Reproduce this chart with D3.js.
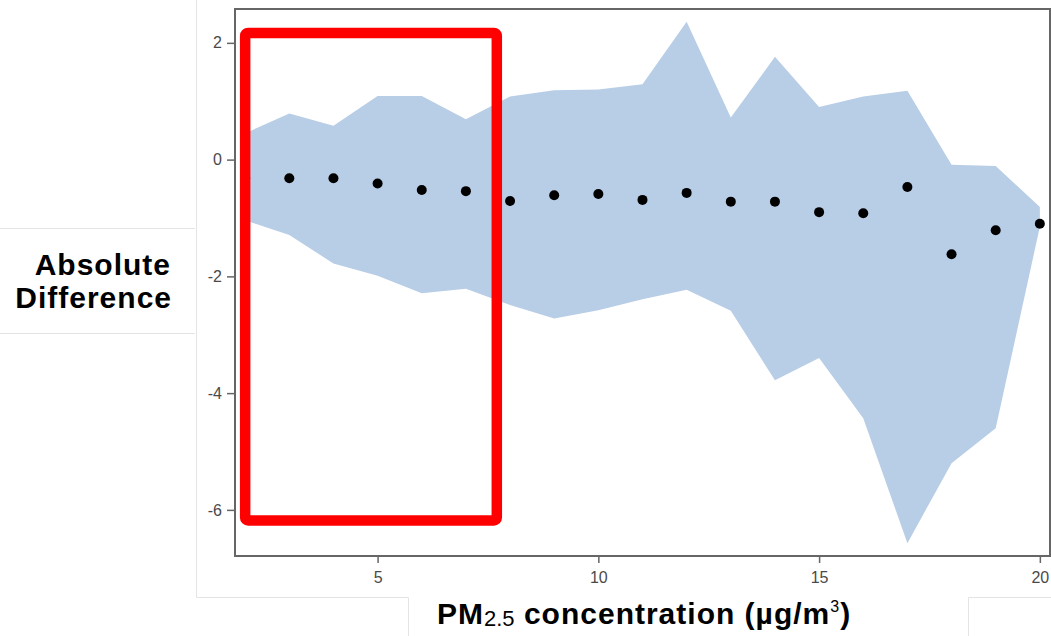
<!DOCTYPE html>
<html>
<head>
<meta charset="utf-8">
<script src="https://cdn.jsdelivr.net/npm/d3@7"></script>
<style>
  body { margin: 0; background: #fff; }
  svg { display: block; font-family: "Liberation Sans", Arial, sans-serif; }
  .tick text { fill: #4a4a4a; font-size: 16px; }
  .tick line { stroke: #666; stroke-width: 1.5; }
  .label { font-weight: bold; fill: #000; }
</style>
</head>
<body>
<div id="chart"></div>
<script>
  // values
  var conc  = [2, 3, 4, 5, 6, 7, 8, 9, 10, 11, 12, 13, 14, 15, 16, 17, 18, 19, 20];
  var meanDiff = [-0.32, -0.32, -0.32, -0.41, -0.52, -0.54, -0.71, -0.61, -0.59, -0.69,
                  -0.57, -0.72, -0.72, -0.90, -0.92, -0.47, -1.62, -1.21, -1.10];
  var upper = [0.45, 0.79, 0.58, 1.09, 1.09, 0.69, 1.08, 1.19, 1.20, 1.29,
               2.36, 0.72, 1.76, 0.90, 1.08, 1.18, -0.09, -0.11, -0.81];
  var lower = [-1.04, -1.29, -1.78, -1.99, -2.29, -2.21, -2.49, -2.72, -2.58, -2.39,
               -2.23, -2.59, -3.78, -3.40, -4.43, -6.57, -5.20, -4.60, -1.15];
  var xTicks = [5, 10, 15, 20];
  var yTicks = [2, 0, -2, -4, -6];
  // highlighted region (red box)
  var boxX = [2.0, 7.7];
  var boxY = [2.17, -6.18];

  var width = 1051, height = 636;
  var plotLeft = 235, plotTop = 9, plotRight = 1050, plotBottom = 556;

  var svg = d3.select("#chart")
    .append("svg")
      .attr("width", width)
      .attr("height", height);

  var x = d3.scaleLinear().domain([1.77, 20.23]).range([plotLeft, plotRight]);
  var y = d3.scaleLinear().domain([-6.79, 2.58]).range([plotBottom, plotTop]);

  // faint outlines of the pasted pieces
  var faint = svg.append("g").attr("stroke", "#e4e4e4").attr("stroke-width", 1).attr("fill", "none");
  faint.append("path").attr("d", "M196.5,0V597.5H408.5V636");
  faint.append("path").attr("d", "M968.5,636V597.5H1051");
  faint.append("path").attr("d", "M0,228.5H195M0,333.5H195");

  var data = conc.map(function(c, i) {
    return { x: c, m: meanDiff[i], hi: upper[i], lo: lower[i] };
  });

  var area = d3.area()
    .x(function(d) { return x(d.x); })
    .y0(function(d) { return y(d.lo); })
    .y1(function(d) { return y(d.hi); });

  svg.append("path")
    .datum(data)
    .attr("d", area)
    .attr("fill", "#b8cde6");

  svg.selectAll(".dot")
    .data(data)
  .enter().append("circle")
    .attr("class", "dot")
    .attr("cx", function(d) { return x(d.x); })
    .attr("cy", function(d) { return y(d.m); })
    .attr("r", 5)
    .attr("fill", "#000");

  // frame
  svg.append("rect")
    .attr("x", plotLeft).attr("y", plotTop)
    .attr("width", plotRight - plotLeft).attr("height", plotBottom - plotTop)
    .attr("fill", "none")
    .attr("stroke", "#666")
    .attr("stroke-width", 2);

  // plain hyphen for negatives, like the original
  var fmt = function(d) { return String(d); };

  svg.append("g")
    .attr("transform", "translate(" + plotLeft + ",0)")
    .call(d3.axisLeft(y).tickValues(yTicks).tickSize(8).tickPadding(5).tickFormat(fmt))
    .call(function(g) { g.select(".domain").remove(); });

  svg.append("g")
    .attr("transform", "translate(0," + plotBottom + ")")
    .call(d3.axisBottom(x).tickValues(xTicks).tickSize(7).tickPadding(9).tickFormat(fmt))
    .call(function(g) { g.select(".domain").remove(); });

  // red highlight box
  svg.append("rect")
    .attr("x", x(boxX[0])).attr("y", y(boxY[0]))
    .attr("width", x(boxX[1]) - x(boxX[0]))
    .attr("height", y(boxY[1]) - y(boxY[0]))
    .attr("rx", 3)
    .attr("fill", "none")
    .attr("stroke", "#ff0000")
    .attr("stroke-width", 10.5);

  // axis titles
  var yl = svg.append("text")
    .attr("class", "label")
    .attr("text-anchor", "end")
    .attr("font-size", 30)
    .attr("letter-spacing", 1);
  yl.append("tspan").attr("x", 171).attr("y", 275).text("Absolute");
  yl.append("tspan").attr("x", 172).attr("y", 308).text("Difference");

  var xl = svg.append("text")
    .attr("class", "label")
    .attr("x", 437).attr("y", 624)
    .attr("font-size", 30)
    .attr("letter-spacing", 1);
  xl.append("tspan").text("PM");
  xl.append("tspan")
    .attr("font-weight", "normal")
    .attr("font-size", 22)
    .attr("letter-spacing", 0)
    .attr("font-family", "'Liberation Sans Narrow', 'Arial Narrow', sans-serif")
    .attr("dy", 2)
    .text("2.5");
  xl.append("tspan").attr("dy", -2).text(" concentration (µg/m");
  xl.append("tspan").attr("font-size", 16).attr("font-weight", "normal").attr("dy", -12).text("3");
  xl.append("tspan").attr("dy", 12).text(")");
</script>
</body>
</html>
